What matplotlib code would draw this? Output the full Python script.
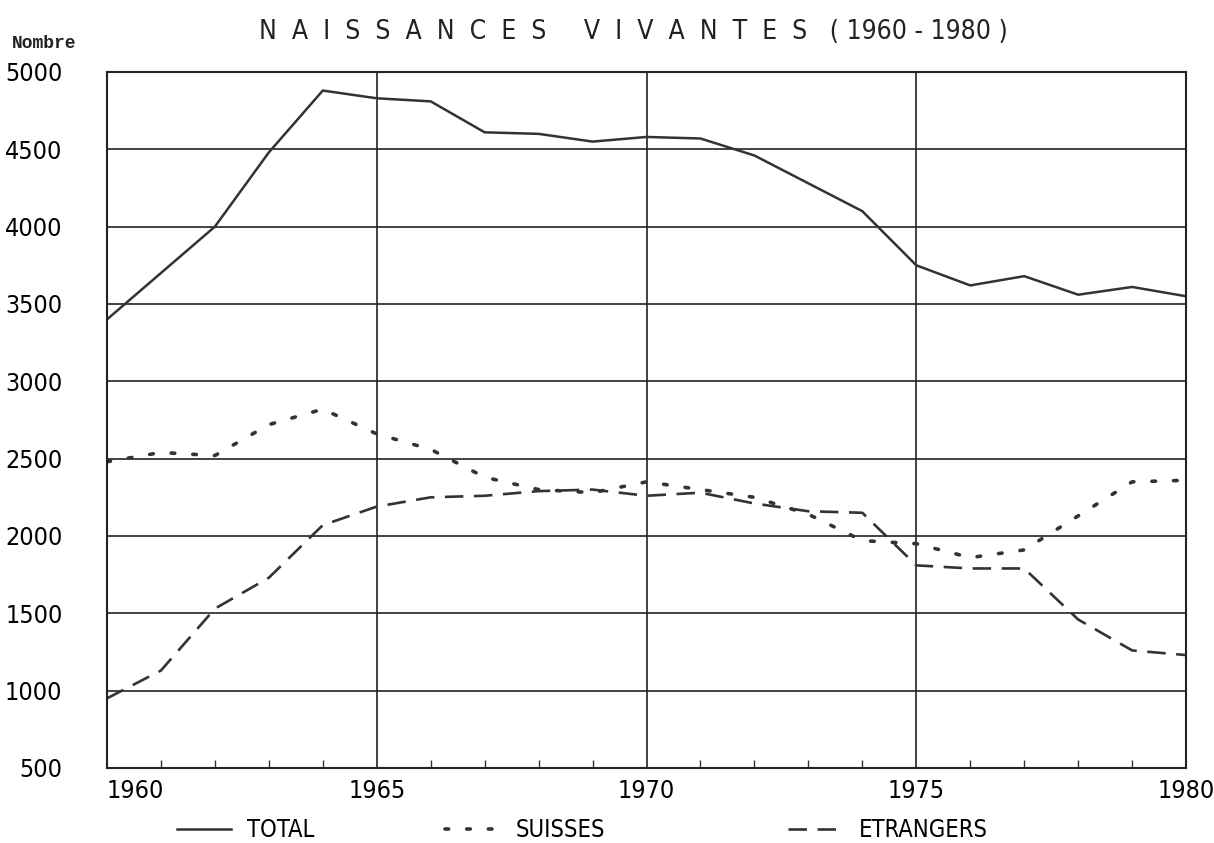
import matplotlib.pyplot as plt
from matplotlib.ticker import MultipleLocator

annees = list(range(1960, 1981))
total = [3400, 3700, 4000, 4480, 4880, 4830, 4810, 4610, 4600, 4550, 4580,
         4570, 4460, 4280, 4100, 3750, 3620, 3680, 3560, 3610, 3550]
suisses = [2480, 2540, 2520, 2720, 2820, 2660, 2560, 2380, 2300, 2280, 2350,
           2300, 2250, 2140, 1970, 1950, 1860, 1910, 2130, 2350, 2360]
etrangers = [950, 1130, 1530, 1730, 2070, 2190, 2250, 2260, 2290, 2300, 2260,
             2280, 2210, 2160, 2150, 1810, 1790, 1790, 1460, 1260, 1230]
yticks = list(range(500, 5001, 500))
xticks = [1960, 1965, 1970, 1975, 1980]

# police etroite
plt.rcParams['font.family'] = ['DejaVu Sans']
plt.rcParams['font.stretch'] = 'condensed'

fig = plt.figure(figsize=(12.14, 8.43), dpi=100)
ax = fig.add_axes([0.0881, 0.089, 0.8889, 0.8256])

l1, = ax.plot(annees, total, color='#333333', lw=1.8, label='TOTAL')
l2, = ax.plot(annees, suisses, color='#333333', lw=2.6, linestyle=(0, (1, 5)),
              dash_capstyle='round', label='SUISSES')
l3, = ax.plot(annees, etrangers, color='#333333', lw=1.9, linestyle=(0, (7, 4)),
              label='ETRANGERS')

ax.set_xlim(1960, 1980)
ax.set_ylim(500, 5000)
ax.set_xticks(xticks)
ax.set_yticks(yticks)
ax.xaxis.set_minor_locator(MultipleLocator(1))
ax.grid(True, which='major', color='#222222', lw=1.2)
ax.tick_params(axis='y', length=0, pad=32, labelsize=18)
ax.tick_params(axis='x', which='major', length=0, pad=8, labelsize=18)
ax.tick_params(axis='x', which='minor', direction='in', length=6, width=1, color='#333333')
ax.get_xticklabels()[0].set_ha('left')
for s in ax.spines.values():
    s.set_color('#222222')
    s.set_linewidth(1.5)

fig.text(0.522, 0.962, 'N  A  I  S  S  A  N  C  E  S     V  I  V  A  N  T  E  S   ( 1960 - 1980 )',
         ha='center', va='center', fontsize=19, color='#222222')
fig.text(0.010, 0.948, 'Nombre', ha='left', va='center', fontsize=13,
         fontweight='bold', family='Liberation Mono', color='#222222')

# legende en trois morceaux, comme sur l'original
for ligne, xpos in [(l1, 0.128), (l2, 0.349), (l3, 0.632)]:
    fig.legend(handles=[ligne], loc='center left', bbox_to_anchor=(xpos, 0.015),
               frameon=False, fontsize=17, handlelength=2.3, handletextpad=0.7)

fig.savefig('out.png', dpi=100, facecolor='white')
